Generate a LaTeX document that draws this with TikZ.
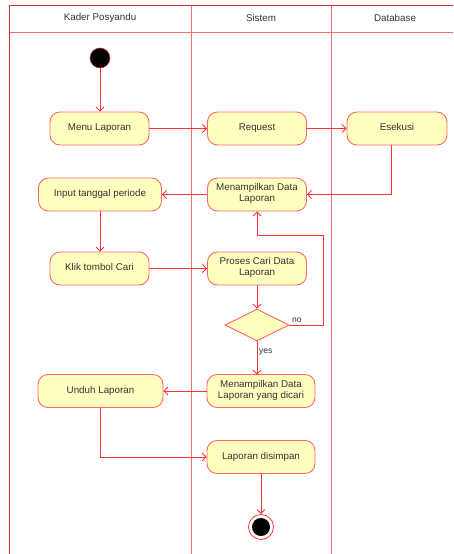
\documentclass[tikz,border=0pt]{standalone}
\usepackage{fontspec}
\setmainfont{Liberation Sans}
\usetikzlibrary{arrows.meta,shapes.geometric}
\definecolor{nodefill}{HTML}{FFFFC0}
\definecolor{nodeline}{HTML}{FF6666}
\definecolor{arrowc}{HTML}{FF3333}
\definecolor{framec}{HTML}{D03030}
\definecolor{lanec}{HTML}{F07070}
\definecolor{txt}{HTML}{333333}
\begin{document}
\begin{tikzpicture}[x=1pt,y=-1pt,
  act/.style={draw=nodeline, fill=nodefill, rounded corners=10pt, minimum height=33pt,
    text=txt, font=\fontsize{9.8}{11}\selectfont, align=center, line width=0.9pt, inner sep=2pt,
    execute at begin node=\strut, execute at end node=\strut},
  flow/.style={draw=arrowc, line width=0.8pt, -{Straight Barb[length=4pt,width=8pt]}},
  hdr/.style={text=txt, font=\fontsize{9.8}{11}\selectfont},
  lbl/.style={text=txt, font=\fontsize{8.5}{10}\selectfont, inner sep=1pt},
  dec/.style={diamond, draw=nodeline, fill=nodefill, line width=0.9pt, minimum width=64pt, minimum height=32pt, inner sep=0pt, aspect=2}
]
\useasboundingbox (0,0) rectangle (453,554);
% swimlanes
\draw[lanec, line width=1.1pt] (9.5,32.5) -- (453,32.5);
\draw[lanec, line width=1.1pt] (191.5,5.5) -- (191.5,554);
\draw[lanec, line width=1.1pt] (331.5,5.5) -- (331.5,554);
\draw[framec, line width=1.1pt] (9.5,554) -- (9.5,5.5) -- (453,5.5);
\node[hdr] (h1) at (100,18) {Kader Posyandu};
\node[hdr] (h2) at (261,18) {Sistem};
\node[hdr] (h3) at (395,18) {Database};
% nodes
\node[circle, fill=black, draw=framec, line width=0.6pt, minimum size=20pt, inner sep=0pt] (start) at (100,58) {};
\node[act, minimum width=99pt] (menu) at (99.5,128.5) {Menu Laporan};
\node[act, minimum width=99pt] (req) at (257,128.5) {Request};
\node[act, minimum width=100pt] (exe) at (397,128.5) {Esekusi};
\node[act, minimum width=123pt] (input) at (100,194.5) {Input tanggal periode};
\node[act, minimum width=99pt] (show) at (257,194.5) {Menampilkan Data\\Laporan};
\node[act, minimum width=99pt] (klik) at (99.5,268.5) {Klik tombol Cari};
\node[act, minimum width=99pt] (proc) at (257,268.5) {Proses Cari Data\\Laporan};
\node[dec] (dec) at (257,325) {};
\node[act, minimum width=108pt] (res) at (261,391) {Menampilkan Data\\Laporan yang dicari};
\node[act, minimum width=125pt] (unduh) at (100.5,391) {Unduh Laporan};
\node[act, minimum width=108pt] (save) at (261,457) {Laporan disimpan};
\node[circle, draw=arrowc, fill=white, line width=0.8pt, minimum size=25pt, inner sep=0pt] (end) at (261,527) {};
\node[circle, fill=black, minimum size=18pt, inner sep=0pt] (endin) at (end) {};
% connectors
\draw[flow] (start) -- (start |- menu.north);
\draw[flow] (menu) -- (req);
\draw[flow] (req) -- (exe);
\coordinate (c1) at (391,194.5);
\draw[flow] (c1 |- exe.south) -- (c1) -- (show.east);
\draw[flow] (show) -- (input);
\draw[flow] (input) -- (input |- klik.north);
\draw[flow] (klik) -- (proc);
\draw[flow] (proc) -- (dec);
\coordinate (c2) at (323,235);
\draw[flow] (dec.east) -- (c2 |- dec.east) -- (c2) -- (257,235) -- (show.south -| 257,0);
\node[lbl, anchor=south west] (no) at (291,324) {no};
\coordinate (c3) at (257,374.5);
\draw[flow] (dec.south) -- (c3);
\node[lbl, anchor=west] (yes) at (258,352) {yes};
\draw[flow] (res) -- (unduh);
\coordinate (c4) at (100,457);
\draw[flow] (c4 |- unduh.south) -- (c4) -- (save.west);
\draw[flow] (save) -- (end);
\end{tikzpicture}
\end{document}
